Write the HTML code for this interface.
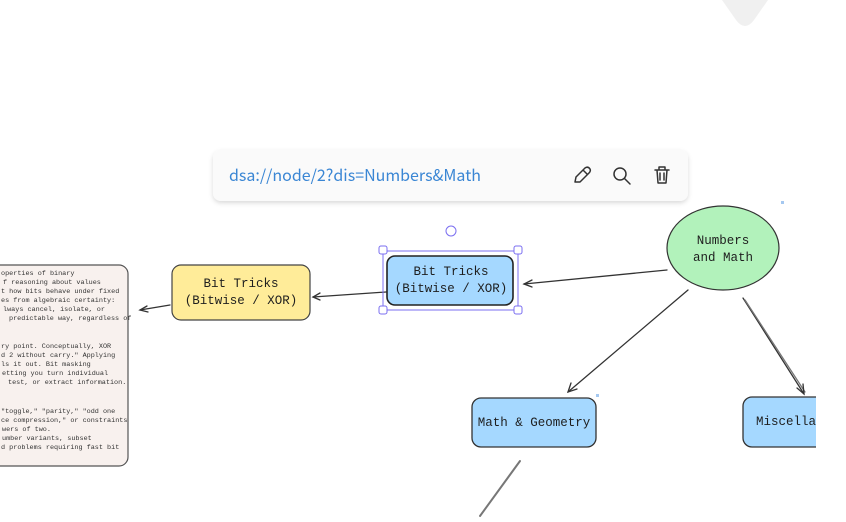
<!DOCTYPE html>
<html><head><meta charset="utf-8"><style>
html,body{margin:0;padding:0;background:#fff;width:846px;height:522px;overflow:hidden}
svg{display:block}
.m{font-family:"Liberation Mono",monospace;fill:#1e1e1e}
.n{font-size:6.8px;fill:#333}
</style></head><body>
<svg width="846" height="522" viewBox="0 0 846 522" xmlns="http://www.w3.org/2000/svg">
<defs>
<filter id="sh" x="-10%" y="-30%" width="120%" height="170%"><feDropShadow dx="0" dy="2" stdDeviation="2.5" flood-color="#000" flood-opacity="0.15"/></filter>
<clipPath id="cv"><rect x="0" y="0" width="816" height="522"/></clipPath>
</defs>
<path d="M722 0 L768 0 L754 20 Q745 32 736 20 Z" fill="#f0f0f0"/>
<g clip-path="url(#cv)">
<!-- note -->
<rect x="-12" y="265" width="140" height="201" rx="9" fill="#f8f1ee" stroke="#555" stroke-width="1.2"/>
<g class="m n">
<text x="1" y="275">operties of binary</text>
<text x="3" y="284">f reasoning about values</text>
<text x="1" y="293">t how bits behave under fixed</text>
<text x="1" y="302">es from algebraic certainty:</text>
<text x="3" y="311">lways cancel, isolate, or</text>
<text x="9" y="320">predictable way, regardless of</text>
<text x="1" y="348">ry point. Conceptually, XOR</text>
<text x="1" y="357">d 2 without carry." Applying</text>
<text x="1" y="366">ls it out. Bit masking</text>
<text x="2" y="375">etting you turn individual</text>
<text x="8" y="384">test, or extract information.</text>
<text x="1" y="413">"toggle," "parity," "odd one</text>
<text x="1" y="422">ce compression," or constraints</text>
<text x="2" y="431">wers of two.</text>
<text x="2" y="440">umber variants, subset</text>
<text x="1" y="449">d problems requiring fast bit</text>
</g>
<!-- connectors -->
<g stroke="#333" stroke-width="1.3" fill="none" stroke-linecap="round">
<path d="M170 305 L140 310"/><path d="M147 306 L140 310 L148 312"/>
<path d="M386 292 L313 297"/><path d="M320 293 L313 297 L320 300"/>
<path d="M667 270 L524 284"/><path d="M532 280 L524 284 L532 287"/>
<path d="M688 290 L568 392"/><path d="M571 383 L568 392 L577 389"/>
<path d="M743 298 L804 394"/><path d="M745 300 L805 392" stroke="#777"/><path d="M797 388 L804 394 L803 384"/>
<path d="M520 461 L480 516" stroke="#777" stroke-width="2"/>
</g>
<!-- nodes -->
<rect x="172" y="265" width="138" height="55" rx="9" fill="#ffec99" stroke="#444" stroke-width="1.2"/>
<text class="m" x="241" y="287" font-size="12.5" text-anchor="middle">Bit Tricks</text>
<text class="m" x="241" y="304" font-size="12.5" text-anchor="middle">(Bitwise / XOR)</text>
<ellipse cx="723" cy="248" rx="56" ry="42" fill="#b2f2bb" stroke="#333" stroke-width="1.2"/>
<text class="m" x="723" y="244" font-size="12.5" text-anchor="middle">Numbers</text>
<text class="m" x="723" y="261" font-size="12.5" text-anchor="middle">and Math</text>
<rect x="387" y="256" width="126" height="49" rx="8" fill="#a5d8ff" stroke="#222" stroke-width="1.6"/>
<text class="m" x="451" y="275" font-size="12.5" text-anchor="middle">Bit Tricks</text>
<text class="m" x="451" y="292" font-size="12.5" text-anchor="middle">(Bitwise / XOR)</text>
<g stroke="#7b6ff0" stroke-width="1" fill="#fff">
<rect x="383" y="251" width="135" height="59" fill="none"/>
<rect x="379" y="246" width="8" height="8" rx="2"/><rect x="514" y="246" width="8" height="8" rx="2"/>
<rect x="379" y="306" width="8" height="8" rx="2"/><rect x="514" y="306" width="8" height="8" rx="2"/>
<circle cx="451" cy="231" r="5"/>
</g>
<rect x="472" y="398" width="124" height="49" rx="9" fill="#a5d8ff" stroke="#333" stroke-width="1.3"/>
<text class="m" x="534" y="426" font-size="12.5" text-anchor="middle">Math &amp; Geometry</text>
<rect x="743" y="397" width="120" height="50" rx="9" fill="#a5d8ff" stroke="#333" stroke-width="1.3"/>
<text class="m" x="756" y="425" font-size="12.5">Miscellaneous</text>
<rect x="596" y="394" width="3" height="3" fill="#a5c8f0"/>
<rect x="781" y="201" width="3" height="3" fill="#a5c8f0"/>
</g>
<!-- toolbar -->
<rect x="213" y="150" width="475" height="51" rx="8" fill="#fafafa" filter="url(#sh)"/>
<text x="229" y="181" font-family="'Noto Sans CJK SC','Liberation Sans',sans-serif" font-size="16" fill="#3a86d4">dsa://node/2?dis=Numbers&amp;Math</text>
<g stroke="#333" stroke-width="1.5" fill="none" stroke-linecap="round" stroke-linejoin="round">
<path d="M575 182 L576 177 L585 168 Q588 166 590 169 Q591 171 589 173 L580 182 Z M583 170 L587 174"/>
<circle cx="620" cy="174" r="6"/><path d="M624.5 178.5 L630 184"/>
<path d="M655 170 L669 170 M659 170 L659 167 L665 167 L665 170 M657 170 L658 183 L666 183 L667 170 M660 173 L660 180 M664 173 L664 180"/>
</g>
</svg>
</body></html>
